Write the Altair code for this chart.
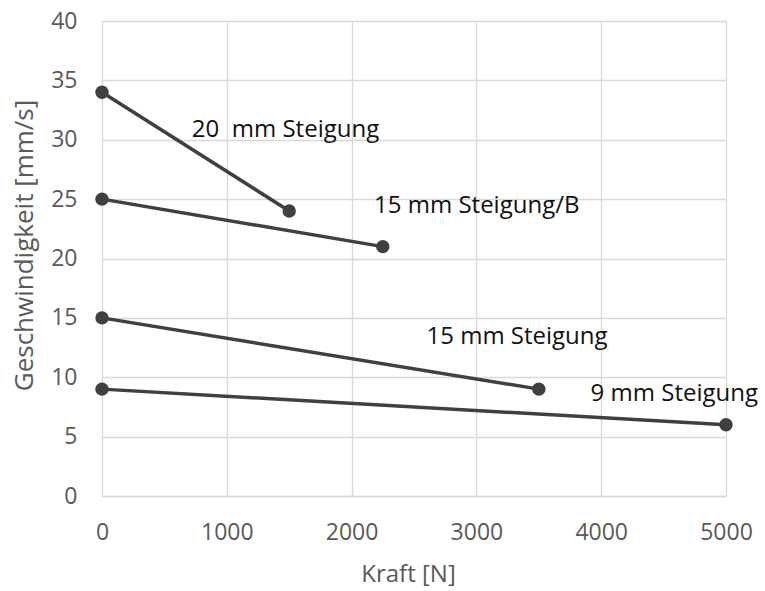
import altair as alt
import pandas as pd

series = ["20 mm", "20 mm", "15 mm/B", "15 mm/B", "15 mm", "15 mm", "9 mm", "9 mm"]
kraft = [0, 1500, 0, 2250, 0, 3500, 0, 5000]
geschw = [34, 24, 25, 21, 15, 9, 9, 6]

label_text = ["20\u00a0 mm Steigung", "15 mm Steigung/B", "15 mm Steigung", "9 mm Steigung"]
label_x = [720, 2180, 2600, 3915]
label_y = [30.8, 24.4, 13.4, 8.6]

x_ticks = [0, 1000, 2000, 3000, 4000, 5000]
y_ticks = [0, 5, 10, 15, 20, 25, 30, 35, 40]

df = pd.DataFrame({"series": series, "kraft": kraft, "v": geschw})
lab = pd.DataFrame({"t": label_text, "kraft": label_x, "v": label_y})

FONT = "Open Sans"
col = "#404040"
grey = "#595959"

x = alt.X("kraft:Q", title="Kraft [N]",
          scale=alt.Scale(domain=[0, 5000], nice=False),
          axis=alt.Axis(values=x_ticks, format="d", grid=True, gridColor="#d9d9d9", gridWidth=1.3,
                        ticks=False, domainColor="#d9d9d9", domainWidth=1.3,
                        labelFlush=False, labelOverlap=False,
                        labelFont=FONT, labelFontSize=23, labelColor=grey, labelPadding=25,
                        titleFont=FONT, titleFontSize=24, titleColor=grey,
                        titleFontWeight="normal", titlePadding=18, titleX=306))
y = alt.Y("v:Q", title="Geschwindigkeit [mm/s]",
          scale=alt.Scale(domain=[0, 40], nice=False),
          axis=alt.Axis(values=y_ticks, format="d", grid=True, gridColor="#d9d9d9", gridWidth=1.3,
                        ticks=False, domain=False, labelFlush=False, labelOverlap=False,
                        labelFont=FONT, labelFontSize=23, labelColor=grey, labelPadding=25,
                        titleFont=FONT, titleFontSize=26, titleColor=grey,
                        titleFontWeight="normal", titlePadding=13, titleY=224))

lines = alt.Chart(df).mark_line(color=col, strokeWidth=3.5).encode(x=x, y=y, detail="series:N")
pts = alt.Chart(df).mark_point(filled=True, color=col, size=180, opacity=1).encode(x=x, y=y)
texts = alt.Chart(lab).mark_text(align="left", baseline="middle", font=FONT, fontSize=24,
                                 color="#111111").encode(x=x, y=y, text="t:N")

chart = alt.layer(lines, pts, texts).properties(
    width=624, height=475,
    autosize=alt.AutoSizeParams(type="none"),
    padding={"left": 102, "top": 21, "right": 39, "bottom": 95},
).configure_view(stroke=None)

chart.save("out.html", embed_options={"renderer": "svg", "actions": False})
